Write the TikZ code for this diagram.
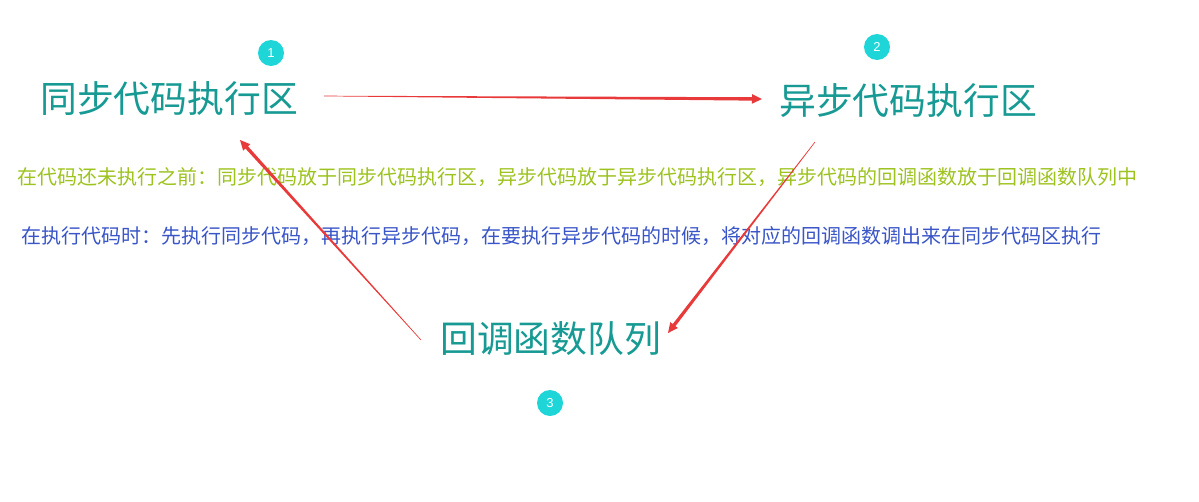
\documentclass[tikz,border=0pt]{standalone}
\usepackage{fontspec}
\setmainfont{Noto Sans CJK SC}
\newfontfamily\digitfont{Liberation Sans}
\usetikzlibrary{calc}
\definecolor{titlecol}{HTML}{169A93}
\definecolor{greencol}{HTML}{9DC31E}
\definecolor{bluecol}{HTML}{3A55C8}
\definecolor{redcol}{HTML}{E83A3A}
\definecolor{badgecol}{HTML}{1ED6D8}
\tikzset{
  titletext/.style={inner sep=0pt, anchor=base west, text=titlecol, font=\fontsize{36.8pt}{40pt}\selectfont},
  noteone/.style={inner sep=0pt, anchor=base west, text=greencol, font=\fontsize{20pt}{24pt}\selectfont},
  notetwo/.style={inner sep=0pt, anchor=base west, text=bluecol, font=\fontsize{20pt}{24pt}\selectfont},
  badge/.style={circle, fill=badgecol, minimum size=26pt, inner sep=0pt, text=white, font=\digitfont\fontsize{13pt}{14pt}\selectfont}
}
\newcommand{\taperarrow}[2]{%
  \fill[redcol] ($(#1)!0.3pt!90:(#2)$) -- ($($(#2)!10pt!(#1)$)!1.7pt!-90:(#1)$)
     -- ($($(#2)!10pt!(#1)$)!4.8pt!-90:(#1)$) -- (#2)
     -- ($($(#2)!10pt!(#1)$)!4.8pt!90:(#1)$)
     -- ($($(#2)!10pt!(#1)$)!1.7pt!90:(#1)$) -- ($(#1)!0.3pt!-90:(#2)$) -- cycle;}
\begin{document}
\begin{tikzpicture}[x=1pt,y=-1pt]
\useasboundingbox[fill=white] (0,0) rectangle (1199,501);
\node[titletext] (sync) at (40,112) {同步代码执行区};
\node[titletext] (async) at (779,114) {异步代码执行区};
\node[titletext] (queue) at (440,352) {回调函数队列};
\node[badge] (b1) at (271,53) {1};
\node[badge] (b2) at (877,47) {2};
\node[badge] (b3) at (550,403) {3};
\node[noteone] (n1) at (17,184) {在代码还未执行之前：同步代码放于同步代码执行区，异步代码放于异步代码执行区，异步代码的回调函数放于回调函数队列中};
\node[notetwo] (n2) at (21,243) {在执行代码时：先执行同步代码，再执行异步代码，在要执行异步代码的时候，将对应的回调函数调出来在同步代码区执行};
\coordinate (a1s) at (324,96);
\coordinate (a1e) at (762,99);
\coordinate (a2s) at (815,142);
\coordinate (a2e) at (668,333);
\coordinate (a3s) at (421,340);
\coordinate (a3e) at (240,140);
\taperarrow{a1s}{a1e}
\taperarrow{a2s}{a2e}
\taperarrow{a3s}{a3e}
\end{tikzpicture}
\end{document}
